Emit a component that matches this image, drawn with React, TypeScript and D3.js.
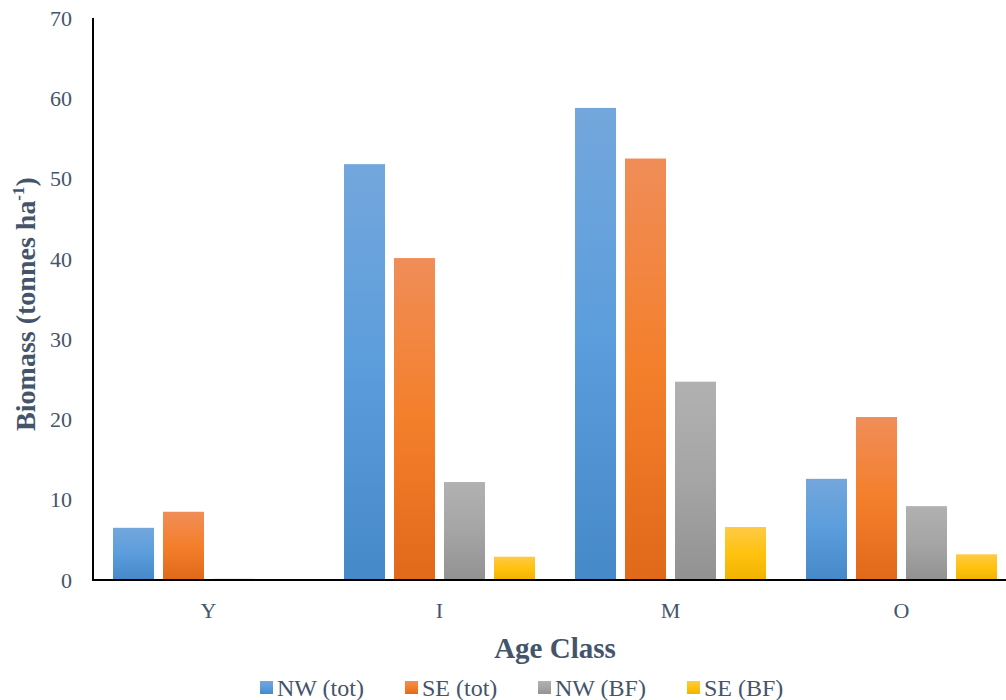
import React from "react";
import * as d3 from "d3";

const categories = ["Y", "I", "M", "O"];
const seriesNames = ["NW (tot)", "SE (tot)", "NW (BF)", "SE (BF)"];
const nwTot = [6.5, 51.8, 58.8, 12.6];
const seTot = [8.5, 40.1, 52.5, 20.3];
const nwBF = [0.15, 12.2, 24.7, 9.2];
const seBF = [0, 2.9, 6.6, 3.2];
const yTicks = [0, 10, 20, 30, 40, 50, 60, 70];

const seriesValues = [nwTot, seTot, nwBF, seBF];

// top / middle / bottom stops for each series gradient
const gradientStops = [
  ["#73a7dc", "#5b9ddc", "#4689c8"],
  ["#f08d58", "#f47f2b", "#e0691a"],
  ["#b1b1b1", "#a5a5a5", "#929292"],
  ["#ffca45", "#ffc20f", "#f0b400"],
];

const W = 1006;
const H = 700;
const left = 93;
const top = 18;
const bottom = 580;
const textColor = "#44546a";
const serif = "'Liberation Serif', 'Times New Roman', Times, serif";
const legendX = [260, 405, 538, 687];

export default function App() {
  const x = d3
    .scaleBand<string>()
    .domain(categories)
    .range([left, left + 924])
    .paddingInner(0)
    .paddingOuter(0);
  const inner = d3
    .scaleBand<number>()
    .domain(d3.range(seriesNames.length))
    .range([0, x.bandwidth()])
    .paddingInner(0.18)
    .paddingOuter(0.4);
  const y = d3.scaleLinear().domain([0, 70]).range([bottom, top]);

  return (
    <svg
      width={W}
      height={H}
      style={{ position: "absolute", left: 0, top: 0, background: "#fff", fontFamily: serif }}
    >
      <defs>
        {gradientStops.map((s, i) => (
          <linearGradient key={i} id={`grad${i}`} x1="0" y1="0" x2="0" y2="1">
            <stop offset="0%" stopColor={s[0]} />
            <stop offset="50%" stopColor={s[1]} />
            <stop offset="100%" stopColor={s[2]} />
          </linearGradient>
        ))}
      </defs>

      {categories.map((c, ci) =>
        seriesValues.map((vals, si) => {
          const v = vals[ci];
          if (v <= 0) return null;
          const bx = (x(c) as number) + (inner(si) as number);
          return (
            <rect
              key={`${c}-${si}`}
              x={bx}
              y={y(v)}
              width={inner.bandwidth()}
              height={bottom - y(v)}
              fill={`url(#grad${si})`}
            />
          );
        })
      )}

      {/* axes */}
      <line x1={left} x2={left} y1={top} y2={bottom + 1} stroke="#000" strokeWidth={2} />
      <line x1={left - 1} x2={W} y1={bottom} y2={bottom} stroke="#000" strokeWidth={2} />

      {yTicks.map((t) => (
        <text
          key={t}
          x={72}
          y={y(t)}
          dy="0.35em"
          textAnchor="end"
          fontSize={22}
          fill={textColor}
        >
          {t}
        </text>
      ))}

      {categories.map((c) => (
        <text
          key={c}
          x={(x(c) as number) + x.bandwidth() / 2}
          y={610}
          dy="0.35em"
          textAnchor="middle"
          fontSize={22}
          fill={textColor}
        >
          {c}
        </text>
      ))}

      <text
        x={555}
        y={648}
        dy="0.35em"
        textAnchor="middle"
        fontSize={29}
        fontWeight="bold"
        fill={textColor}
      >
        Age Class
      </text>

      <text
        transform={`translate(35, 304) rotate(-90)`}
        textAnchor="middle"
        fontSize={28}
        fontWeight="bold"
        fill={textColor}
      >
        Biomass (tonnes ha
        <tspan fontSize={17} dy={-11}>-1</tspan>
        <tspan dy={11}>)</tspan>
      </text>

      {/* legend */}
      {seriesNames.map((n, i) => (
        <g key={n} transform={`translate(${legendX[i]}, 687.5)`}>
          <rect x={0} y={-6.5} width={13} height={13} fill={`url(#grad${i})`} />
          <text x={17} y={0} dy="0.35em" fontSize={24} fill={textColor}>
            {n}
          </text>
        </g>
      ))}
    </svg>
  );
}
